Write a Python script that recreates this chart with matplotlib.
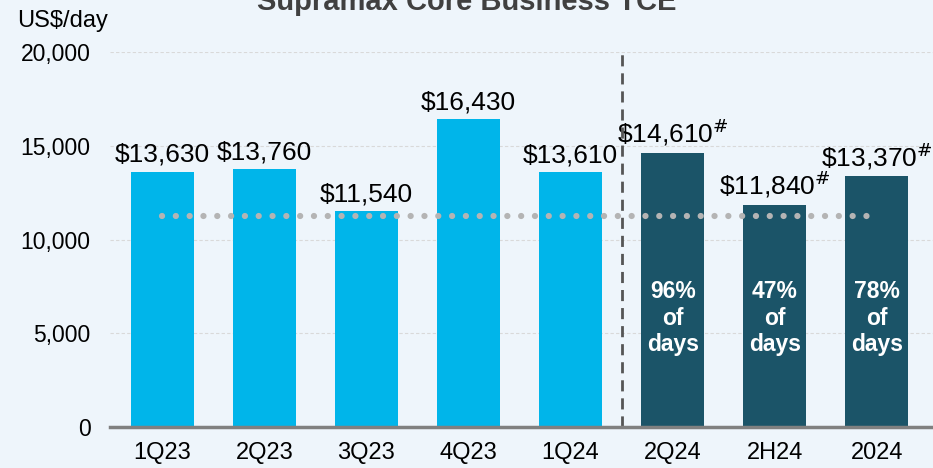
import matplotlib.pyplot as plt

plt.rcParams['font.family'] = ['Liberation Sans', 'DejaVu Sans']

periods = ["1Q23", "2Q23", "3Q23", "4Q23", "1Q24", "2Q24", "2H24", "2024"]
tce = [13630, 13760, 11540, 16430, 13610, 14610, 11840, 13370]
booked = [None, None, None, None, None, "96%", "47%", "78%"]
average = 11250
yticks = [0, 5000, 10000, 15000, 20000]

bg = "#EEF5FB"
light = "#00B5EA"
dark = "#1B5468"

fig = plt.figure(figsize=(9.33, 4.68), dpi=100, facecolor=bg)
ax = fig.add_axes([0.118, 0.0876, 0.882, 0.801])
ax.set_facecolor(bg)

x = list(range(len(periods)))
colors = [light if b is None else dark for b in booked]
ax.bar(x, tce, width=0.62, color=colors, zorder=2)

for i, v in enumerate(tce):
    lab = "\\${:,}".format(v)
    if booked[i] is not None:
        lab += "$^{\\#}$"
        ax.text(i, 5800, booked[i] + "\nof\ndays", ha="center", va="center",
                color="white", fontsize=16.5, fontweight="bold", linespacing=1.2, zorder=3)
    ax.text(i, v + 250, lab, ha="center", va="bottom", fontsize=19, zorder=3, clip_on=False)

ax.plot([0, 7], [average, average], linestyle=(0, (0.01, 2.2)), dash_capstyle="round",
        color="#B4B4B4", linewidth=4.5, zorder=4)
ax.plot([4.5, 4.5], [0, 20000], linestyle=(0, (4, 2.5)), color="#555555", linewidth=2, zorder=4)

ax.set_xlim(-0.51, 7.55)
ax.set_ylim(0, 20000)
ax.set_yticks(yticks)
ax.set_yticklabels(["{:,}".format(t) for t in yticks], fontsize=16.5)
ax.set_xticks(x)
ax.set_xticklabels(periods, fontsize=17)
ax.tick_params(axis="both", length=0)
ax.tick_params(axis="x", pad=11)
ax.tick_params(axis="y", pad=14)
ax.grid(axis="y", linestyle=(0, (3, 2)), color="#D9D9D9", linewidth=0.8, zorder=0)
for s in ["top", "right", "left"]:
    ax.spines[s].set_visible(False)
ax.spines["bottom"].set_color("#808080")
ax.spines["bottom"].set_linewidth(2.5)
ax.spines["bottom"].set_zorder(5)

fig.text(0.018, 0.955, "US$/day", fontsize=17, va="center", ha="left")
fig.text(0.5, 0.979, "Supramax Core Business TCE", fontsize=21, fontweight="bold",
         color="#404040", ha="center", va="baseline")

fig.savefig("out.png", dpi=100, facecolor=bg)
